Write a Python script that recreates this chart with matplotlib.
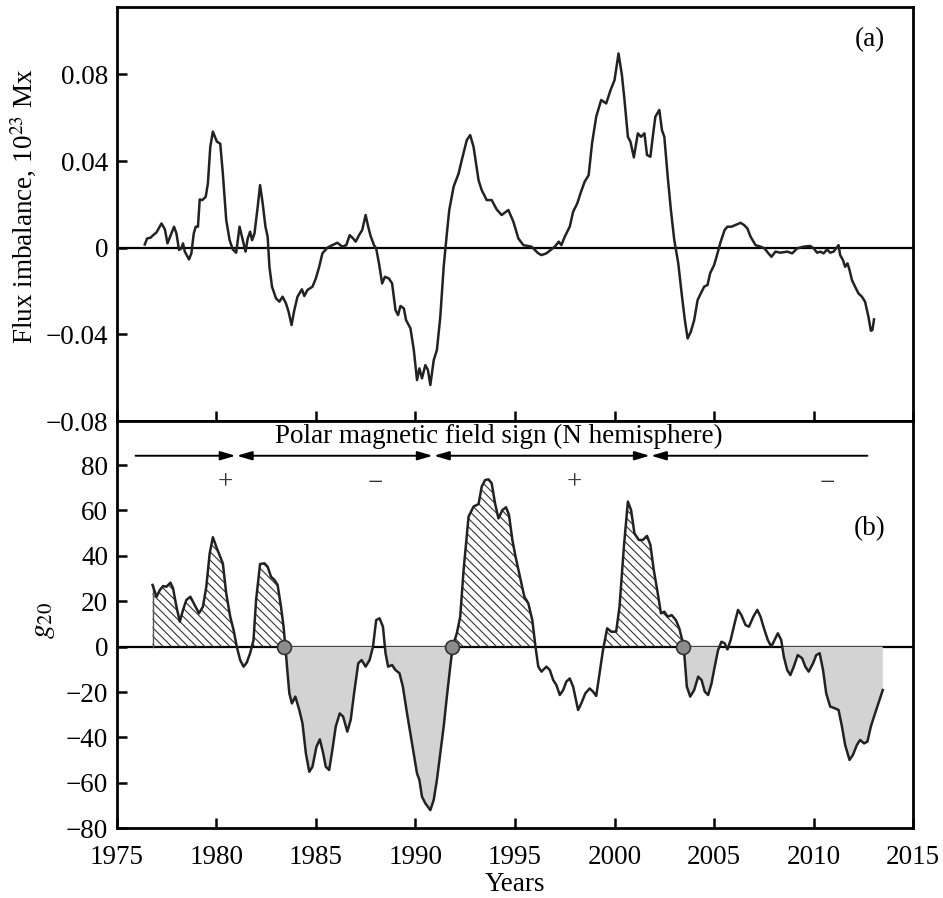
import numpy as np
import matplotlib
matplotlib.use("Agg")
import matplotlib.pyplot as plt

plt.rcParams["font.family"] = ["Liberation Serif", "DejaVu Serif"]
plt.rcParams["mathtext.fontset"] = "stix"
plt.rcParams["hatch.linewidth"] = 0.8

# ---------------------------------------------------------------------------
# Data
# ---------------------------------------------------------------------------

# (a) flux imbalance, 10^23 Mx
flux_years = [
    1976.41, 1976.53, 1976.70, 1976.83, 1977.00, 1977.25, 1977.42, 1977.55, 1977.75, 1977.88,
    1978.00, 1978.13, 1978.25, 1978.33, 1978.42, 1978.63, 1978.75, 1978.87, 1978.97, 1979.08,
    1979.17, 1979.30, 1979.47, 1979.58, 1979.70, 1979.83, 1980.03, 1980.20, 1980.33, 1980.50,
    1980.67, 1980.83, 1981.00, 1981.17, 1981.33, 1981.47, 1981.58, 1981.70, 1981.80, 1981.92,
    1982.08, 1982.20, 1982.33, 1982.47, 1982.58, 1982.67, 1982.80, 1983.00, 1983.17, 1983.33,
    1983.50, 1983.63, 1983.78, 1983.92, 1984.08, 1984.30, 1984.42, 1984.58, 1984.83, 1985.00,
    1985.17, 1985.33, 1985.58, 1985.83, 1986.08, 1986.33, 1986.53, 1986.70, 1986.87, 1987.00,
    1987.17, 1987.33, 1987.50, 1987.63, 1987.75, 1987.92, 1988.03, 1988.17, 1988.33, 1988.47,
    1988.67, 1988.83, 1989.00, 1989.13, 1989.25, 1989.42, 1989.53, 1989.75, 1989.92, 1990.08,
    1990.20, 1990.33, 1990.50, 1990.63, 1990.75, 1990.92, 1991.08, 1991.25, 1991.42, 1991.58,
    1991.70, 1991.92, 1992.17, 1992.33, 1992.58, 1992.75, 1992.92, 1993.17, 1993.33, 1993.58,
    1993.83, 1994.08, 1994.33, 1994.67, 1994.92, 1995.17, 1995.42, 1995.83, 1996.17, 1996.33,
    1996.58, 1997.00, 1997.20, 1997.33, 1997.50, 1997.75, 1997.92, 1998.13, 1998.30, 1998.50,
    1998.70, 1998.87, 1999.08, 1999.33, 1999.58, 1999.80, 2000.00, 2000.20, 2000.37, 2000.50,
    2000.67, 2000.80, 2000.97, 2001.17, 2001.33, 2001.50, 2001.63, 2001.80, 2001.92, 2002.05,
    2002.25, 2002.38, 2002.50, 2002.67, 2002.83, 2003.00, 2003.20, 2003.37, 2003.53, 2003.67,
    2003.83, 2004.00, 2004.17, 2004.33, 2004.50, 2004.67, 2004.80, 2005.00, 2005.17, 2005.33,
    2005.53, 2005.67, 2005.87, 2006.08, 2006.33, 2006.50, 2006.67, 2006.83, 2007.08, 2007.33,
    2007.53, 2007.70, 2007.88, 2008.08, 2008.33, 2008.67, 2008.92, 2009.17, 2009.50, 2009.83,
    2010.00, 2010.17, 2010.33, 2010.50, 2010.67, 2010.83, 2011.00, 2011.25, 2011.33, 2011.47,
    2011.58, 2011.70, 2011.80, 2011.92, 2012.08, 2012.25, 2012.42, 2012.58, 2012.75, 2012.87,
    2012.95, 2013.03,
]
flux_vals = [
    0.0015, 0.0043, 0.0046, 0.0058, 0.0071, 0.0112, 0.0085, 0.0020, 0.0066, 0.0097,
    0.0066, -0.0010, -0.0003, 0.0020, -0.0018, -0.0054, -0.0026, 0.0066, 0.0097, 0.0097,
    0.0223, 0.0220, 0.0235, 0.0297, 0.0466, 0.0536, 0.0490, 0.0480, 0.0343, 0.0128,
    0.0035, -0.0008, -0.0023, 0.0097, 0.0035, -0.0018, 0.0043, 0.0074, 0.0035, 0.0066,
    0.0189, 0.0289, 0.0205, 0.0097, 0.0051, -0.0088, -0.0180, -0.0234, -0.0249, -0.0226,
    -0.0257, -0.0295, -0.0357, -0.0288, -0.0226, -0.0192, -0.0223, -0.0195, -0.0180, -0.0142,
    -0.0088, -0.0026, 0.0000, 0.0012, 0.0023, 0.0005, 0.0012, 0.0058, 0.0043, 0.0028,
    0.0058, 0.0082, 0.0151, 0.0097, 0.0054, 0.0012, -0.0003, -0.0072, -0.0165, -0.0134,
    -0.0142, -0.0165, -0.0288, -0.0311, -0.0269, -0.0280, -0.0334, -0.0372, -0.0472, -0.0611,
    -0.0557, -0.0603, -0.0542, -0.0565, -0.0634, -0.0519, -0.0472, -0.0319, -0.0088, 0.0066,
    0.0174, 0.0282, 0.0343, 0.0405, 0.0497, 0.0520, 0.0466, 0.0312, 0.0266, 0.0220,
    0.0220, 0.0177, 0.0151, 0.0174, 0.0120, 0.0043, 0.0012, 0.0005, -0.0026, -0.0034,
    -0.0026, 0.0005, 0.0028, 0.0012, 0.0051, 0.0097, 0.0166, 0.0205, 0.0254, 0.0305,
    0.0335, 0.0482, 0.0605, 0.0682, 0.0666, 0.0728, 0.0774, 0.0897, 0.0797, 0.0682,
    0.0512, 0.0489, 0.0417, 0.0528, 0.0512, 0.0528, 0.0428, 0.0420, 0.0512, 0.0605,
    0.0636, 0.0543, 0.0512, 0.0328, 0.0174, 0.0035, -0.0072, -0.0211, -0.0334, -0.0419,
    -0.0388, -0.0334, -0.0242, -0.0211, -0.0180, -0.0172, -0.0118, -0.0080, -0.0026, 0.0028,
    0.0082, 0.0097, 0.0097, 0.0105, 0.0115, 0.0105, 0.0089, 0.0051, 0.0012, 0.0005,
    -0.0003, -0.0023, -0.0042, -0.0018, -0.0023, -0.0018, -0.0026, -0.0003, 0.0005, 0.0008,
    -0.0003, -0.0023, -0.0018, -0.0026, -0.0008, -0.0023, -0.0018, 0.0012, -0.0034, -0.0057,
    -0.0088, -0.0072, -0.0103, -0.0149, -0.0180, -0.0211, -0.0226, -0.0249, -0.0319, -0.0383,
    -0.0380, -0.0331,
]

# (b) axisymmetric g20 coefficient
g20_years = [
    1976.80, 1977.00, 1977.17, 1977.33, 1977.50, 1977.70, 1977.83, 1978.00, 1978.17, 1978.33,
    1978.50, 1978.70, 1978.83, 1979.00, 1979.13, 1979.33, 1979.50, 1979.67, 1979.83, 1980.03,
    1980.20, 1980.33, 1980.50, 1980.70, 1980.87, 1981.03, 1981.20, 1981.37, 1981.53, 1981.70,
    1981.87, 1982.00, 1982.20, 1982.42, 1982.58, 1982.75, 1982.92, 1983.08, 1983.25, 1983.38,
    1983.47, 1983.58, 1983.67, 1983.80, 1983.97, 1984.17, 1984.33, 1984.50, 1984.67, 1984.83,
    1985.03, 1985.20, 1985.37, 1985.50, 1985.67, 1985.83, 1986.00, 1986.20, 1986.37, 1986.58,
    1986.75, 1986.92, 1987.13, 1987.30, 1987.50, 1987.70, 1987.87, 1988.03, 1988.20, 1988.37,
    1988.50, 1988.63, 1988.83, 1989.00, 1989.20, 1989.37, 1989.58, 1989.80, 1989.97, 1990.08,
    1990.20, 1990.33, 1990.50, 1990.75, 1990.92, 1991.08, 1991.25, 1991.42, 1991.58, 1991.75,
    1991.87, 1992.08, 1992.25, 1992.42, 1992.67, 1992.92, 1993.17, 1993.33, 1993.50, 1993.67,
    1993.83, 1994.00, 1994.17, 1994.37, 1994.55, 1994.70, 1994.87, 1995.03, 1995.25, 1995.47,
    1995.67, 1995.87, 1996.03, 1996.17, 1996.33, 1996.58, 1996.75, 1996.92, 1997.08, 1997.25,
    1997.42, 1997.58, 1997.75, 1997.92, 1998.17, 1998.33, 1998.53, 1998.75, 1998.92, 1999.08,
    1999.25, 1999.42, 1999.63, 1999.83, 2000.08, 2000.25, 2000.47, 2000.67, 2000.83, 2001.00,
    2001.22, 2001.42, 2001.63, 2001.80, 2001.97, 2002.17, 2002.33, 2002.50, 2002.67, 2002.87,
    2003.08, 2003.25, 2003.42, 2003.50, 2003.63, 2003.80, 2004.00, 2004.20, 2004.37, 2004.53,
    2004.70, 2004.87, 2005.03, 2005.20, 2005.37, 2005.53, 2005.67, 2005.83, 2006.03, 2006.20,
    2006.37, 2006.58, 2006.75, 2006.97, 2007.17, 2007.33, 2007.53, 2007.70, 2007.87, 2008.03,
    2008.20, 2008.37, 2008.50, 2008.67, 2008.83, 2009.00, 2009.20, 2009.42, 2009.58, 2009.75,
    2009.97, 2010.13, 2010.30, 2010.47, 2010.63, 2010.83, 2011.08, 2011.25, 2011.42, 2011.58,
    2011.80, 2011.97, 2012.17, 2012.33, 2012.53, 2012.70, 2012.87, 2013.03, 2013.25, 2013.47,
]
g20_vals = [
    27.2, 22.0, 25.0, 26.7, 26.4, 28.2, 25.7, 17.6, 11.0, 16.2,
    20.6, 22.0, 19.8, 16.9, 14.7, 17.6, 26.4, 41.1, 48.2, 43.3,
    39.6, 36.7, 23.5, 13.2, 7.3, 0.0, -5.9, -8.8, -7.0, -2.9,
    2.9, 20.6, 36.4, 36.7, 35.2, 30.8, 29.4, 27.2, 17.6, 8.8,
    0.0, -11.7, -20.6, -25.0, -22.0, -27.9, -33.8, -47.0, -55.1, -52.9,
    -44.1, -40.8, -47.0, -52.9, -54.3, -45.5, -35.2, -29.4, -30.8, -37.4,
    -32.3, -20.6, -7.3, -5.9, -8.8, -5.9, 0.0, 11.7, 12.5, 8.8,
    -2.9, -8.8, -8.1, -10.3, -11.7, -17.6, -29.4, -41.1, -49.9, -55.8,
    -58.7, -66.1, -69.0, -72.0, -67.5, -58.7, -47.0, -35.2, -22.0, -8.8,
    0.0, 5.9, 13.2, 33.8, 57.3, 61.7, 62.8, 70.5, 73.4, 73.7,
    72.0, 63.1, 56.5, 60.2, 61.4, 58.0, 47.0, 39.6, 30.8, 22.0,
    19.1, 11.7, 0.0, -8.8, -11.0, -8.8, -10.3, -14.7, -16.9, -21.3,
    -19.1, -15.4, -14.0, -17.6, -27.9, -25.0, -20.6, -18.4, -19.8, -21.7,
    -11.7, -1.5, 8.1, 6.6, 6.6, 17.6, 44.1, 63.9, 60.2, 49.9,
    47.0, 47.0, 48.8, 44.8, 33.8, 23.5, 14.7, 15.4, 13.2, 13.9,
    11.7, 8.1, 2.2, -2.9, -17.6, -22.0, -19.1, -13.2, -14.7, -19.8,
    -21.3, -16.2, -8.8, -1.5, 2.2, 1.5, -1.2, 2.9, 10.3, 16.2,
    13.9, 9.5, 8.8, 13.2, 16.2, 13.2, 7.3, 2.9, 0.0, 2.9,
    5.9, 2.9, -4.4, -10.3, -12.5, -8.8, -3.7, -5.1, -8.8, -11.0,
    -7.3, -3.7, -2.9, -10.3, -20.6, -26.4, -27.2, -27.9, -35.2, -43.3,
    -49.9, -47.7, -43.3, -41.1, -42.6, -41.8, -35.2, -30.8, -25.0, -19.1,
]

# polar field reversals (circles on the zero line)
reversal_years = [1983.4, 1991.83, 2003.45]
# polarity epochs of the N polar field shown by the arrows
epoch_bounds = [1975.95, 1981.0, 1990.9, 2001.8, 2012.7]
epoch_signs = ["+", "\u2212", "+", "\u2212"]
sign_years = [1980.45, 1988.0, 1998.0, 2010.7]

flux_ticks = [-0.08, -0.04, 0, 0.04, 0.08]
flux_ticklabels = ["\u22120.08", "\u22120.04", "0", "0.04", "0.08"]
g20_ticks = [-80, -60, -40, -20, 0, 20, 40, 60, 80]
year_ticks = [1975, 1980, 1985, 1990, 1995, 2000, 2005, 2010, 2015]

# ---------------------------------------------------------------------------
# Figure
# ---------------------------------------------------------------------------

FS = 19.5
LINE = "#222222"

fig = plt.figure(figsize=(9.43, 8.98), dpi=100)
ax1 = fig.add_axes([0.12375, 0.53118, 0.8447, 0.4607])
ax2 = fig.add_axes([0.12375, 0.07762, 0.8447, 0.45356])

for ax in (ax1, ax2):
    ax.set_xlim(1975, 2015)
    for sp in ax.spines.values():
        sp.set_linewidth(2.0)
    ax.tick_params(direction="in", length=7, width=1.8, labelsize=FS,
                   top=False, right=False)
    ax.tick_params(axis="y", pad=6)
    ax.tick_params(axis="x", pad=12)
    ax.axhline(0, color="black", lw=1.6, zorder=1)

# ---- (a) -----------------------------------------------------------------
ax1.plot(flux_years, flux_vals, color=LINE, lw=1.8, zorder=3)
ax1.set_ylim(-0.08, 0.111)
ax1.set_yticks(flux_ticks)
ax1.set_yticklabels(flux_ticklabels)
ax1.set_xticks(year_ticks)
ax1.tick_params(axis="x", labelbottom=False)
ax1.set_ylabel("Flux imbalance, 10$^{23}$ Mx", fontsize=FS)
ax1.yaxis.set_label_coords(-0.098, 0.52)
ax1.text(2012.8, 0.0962, "(a)", fontsize=FS, ha="center", va="center")

# ---- (b) -----------------------------------------------------------------
t = np.array(g20_years)
g = np.array(g20_vals)
r1, r2, r3 = reversal_years
positive_epoch = (t < r1) | ((t >= r2) & (t < r3))

ax2.fill_between(t, 0, g, where=(g > 0) & positive_epoch, interpolate=True,
                 facecolor="none", edgecolor="#333333", hatch="\\\\\\\\",
                 linewidth=0, zorder=2)
ax2.fill_between(t, 0, g, where=(g < 0) & ~positive_epoch, interpolate=True,
                 facecolor="#d3d3d3", edgecolor="none", linewidth=0, zorder=2)
ax2.plot([t[0], t[0]], [0, g[0]], color="#555555", lw=1.0, zorder=3)
ax2.plot(t, g, color=LINE, lw=1.8, zorder=3)
ax2.plot(reversal_years, [0] * len(reversal_years), "o", ms=10,
         mfc="#8c8c8c", mec="#333333", mew=1.2, zorder=4)

ax2.set_ylim(-80, 99.4)
ax2.set_yticks(g20_ticks)
ax2.set_yticklabels([str(v).replace("-", "\u2212") for v in g20_ticks])
ax2.set_xticks(year_ticks)
ax2.set_xlabel("Years", fontsize=FS)
ax2.xaxis.set_label_coords(0.5, -0.108)
ax2.set_ylabel("$g_{20}$", fontsize=FS + 2)
ax2.yaxis.set_label_coords(-0.075, 0.51)
ax2.text(2012.8, 52.2, "(b)", fontsize=FS, ha="center", va="center")

# polarity arrows
ARROW_Y = 84.1
gap = 0.03
head = "head_length=0.75,head_width=0.22"
n = len(epoch_bounds) - 1
for i in range(n):
    x0, x1 = epoch_bounds[i], epoch_bounds[i + 1]
    if i == 0:
        style, x1 = "-|>," + head, x1 - gap
    elif i == n - 1:
        style, x0 = "<|-," + head, x0 + gap
    else:
        style, x0, x1 = "<|-|>," + head, x0 + gap, x1 - gap
    ax2.annotate("", xy=(x1, ARROW_Y), xytext=(x0, ARROW_Y),
                 arrowprops=dict(arrowstyle=style, color="black", lw=1.4,
                                 shrinkA=0, shrinkB=0, mutation_scale=12))
for x, s in zip(sign_years, epoch_signs):
    ax2.text(x, 72, s, fontsize=FS, ha="center", va="center", color="#333333")
ax2.text(1994.2, 89.7, "Polar magnetic field sign (N hemisphere)",
         fontsize=FS, ha="center", va="baseline")

fig.savefig("out.png", dpi=100)
